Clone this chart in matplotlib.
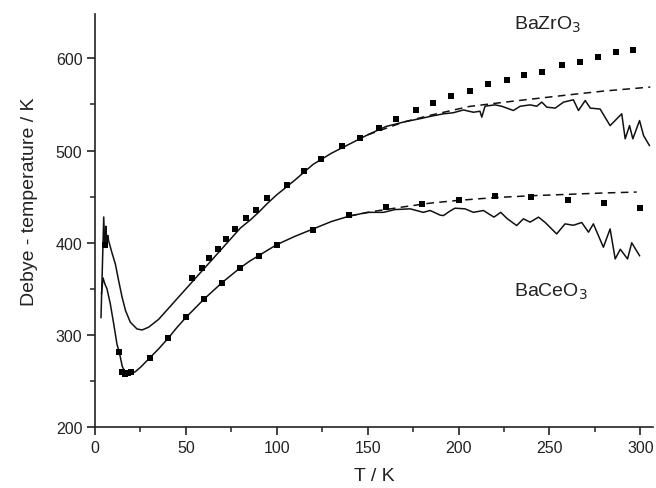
import matplotlib
matplotlib.use("Agg")
import matplotlib.pyplot as plt
from matplotlib.ticker import MultipleLocator

plt.rcParams['font.family'] = ['Liberation Sans', 'DejaVu Sans']

# BaZrO3 measured Debye temperature (solid line)
zr_line_T = [3.3, 4.8, 5.3, 5.7, 6.0, 6.5, 7.0, 7.5, 8.1, 9.5, 11.2, 13, 14.9, 16.8, 19.4, 23.1, 25.9,
             29.5, 35, 40, 45, 50, 55, 60, 65, 70, 75, 80, 85, 90, 95, 100, 110, 120, 130, 140, 150,
             160, 170, 180, 184.4, 191.7, 197.2, 202.7, 208.2, 211.8, 212.8, 214.6, 220.1, 223.8,
             230.2, 233.9, 239.4, 243, 245.8, 248.6, 253.2, 257.8, 263.2, 266, 269.7, 272.5, 277.9,
             283.4, 289.8, 291.7, 294.1, 295.9, 299.6, 301.8, 305]
zr_line_D = [319, 428, 400, 395, 418, 398, 408, 402, 398, 388, 377, 359, 341, 326.5, 314, 306.6, 305.5,
             308.5, 317, 328, 339, 350, 361, 372, 383, 394, 405, 416, 424, 433, 443, 452, 468, 485, 497,
             507, 517, 526, 531, 535, 537, 539.8, 541, 544, 541.5, 542.6, 536.2, 548.1, 549.5, 548,
             543.4, 548, 549.5, 548, 552.5, 547, 546, 552.5, 555, 543.4, 554.2, 546, 545,
             527, 539.8, 512.7, 527, 512.7, 532.5, 516.3, 505.5]

# BaZrO3 calculated points (squares)
zr_pts_T = [5.5, 53.6, 58.7, 62.9, 67.5, 72.3, 77.2, 83.3, 88.5, 94.8, 105.5, 115, 124.5, 136.1, 145.8,
            156.1, 165.7, 176.5, 186, 195.8, 206.4, 216.1, 226.4, 236.3, 245.8, 256.8, 266.7, 276.7,
            286.8, 296.1]
zr_pts_D = [398, 361.6, 372.8, 383.6, 393.4, 403.9, 415, 427, 435.5, 448.4, 463, 478, 491, 505, 513.4,
            524.6, 534.4, 544, 551, 558.8, 564.7, 571.6, 576.4, 582, 585.4, 592.2, 595.9, 600.9,
            606.7, 609.5]

# BaZrO3 Debye model (dashed)
zr_fit_T = [150, 170, 184, 206, 230, 257.7, 280, 305.5]
zr_fit_D = [517, 531, 538, 547.8, 553.5, 559.7, 564.5, 568.8]

# BaCeO3 measured Debye temperature (solid line)
ce_line_T = [3.6, 4.4, 5.5, 6.6, 8.4, 10.3, 12.1, 13.4, 15, 16.5, 18, 20, 22, 25, 30, 35, 40, 45, 50,
             55, 60, 65, 70, 75, 80, 85, 90, 95, 100, 110, 120, 130, 140, 150, 158.7, 165, 173.4,
             180.6, 184.4, 189.9, 191.7, 195, 198, 203.6, 208.2, 213.7, 219.5, 223.2, 226.9, 232,
             235.7, 239.4, 244, 247.7, 254, 258.6, 263.2, 267.8, 271.5, 274.2, 279.7, 283.4, 286.2,
             289, 293, 295.3, 299.6]
ce_line_D = [345, 362, 355, 350, 334, 312, 290, 281, 266, 260, 258, 258.5, 260, 265, 275, 285, 296, 308,
             319, 329, 339, 348, 357, 365, 373, 380, 386, 392, 398, 407, 415, 423, 429, 433, 433, 436,
             436.8, 433, 435, 430, 429.5, 434, 437.5, 436.8, 433, 435, 427.8, 433, 426, 418.7,
             426, 422.4, 427.8, 422, 409.6, 420.5, 419, 422, 411.5, 420.5, 395.2, 415, 382.5,
             393, 382.5, 400, 386]

# BaCeO3 calculated points (squares)
ce_pts_T = [13.3, 14.9, 16.4, 18, 20, 30, 40, 50, 60, 70, 80, 90, 100, 120, 140, 160, 180, 200, 220,
            240, 260, 280, 300]
ce_pts_D = [281.3, 260, 257.8, 258.5, 259.6, 275, 296.5, 320, 339.2, 356.5, 372.8, 386.1, 398, 414,
            430.3, 438.6, 442.5, 446.9, 450.5, 449.8, 446.9, 443, 438.2]

# BaCeO3 Debye model (dashed)
ce_fit_T = [140, 153, 170, 184.4, 200, 220, 240, 260, 280, 298]
ce_fit_D = [429, 434, 439, 443, 446, 449, 451, 452.5, 454, 455]

fig = plt.figure(figsize=(6.56, 4.89), dpi=100)
ax = fig.add_axes([95/656, 1 - 428.3/489, (653 - 95)/656, 413.3/489])

lw = 1.1
ax.plot(zr_line_T, zr_line_D, color='#111111', lw=lw)
ax.plot(ce_line_T, ce_line_D, color='#111111', lw=lw)
ax.plot(zr_fit_T, zr_fit_D, color='#111111', lw=lw, dashes=(5, 3.5))
ax.plot(ce_fit_T, ce_fit_D, color='#111111', lw=lw, dashes=(5, 3.5))
ax.plot(zr_pts_T, zr_pts_D, 's', color='black', ms=4.8, mew=0)
ax.plot(ce_pts_T, ce_pts_D, 's', color='black', ms=4.8, mew=0)

ax.set_xlim(0, 307)
ax.set_ylim(200, 648)
ax.xaxis.set_major_locator(MultipleLocator(50))
ax.xaxis.set_minor_locator(MultipleLocator(25))
ax.yaxis.set_major_locator(MultipleLocator(100))
ax.yaxis.set_minor_locator(MultipleLocator(50))
ax.spines['top'].set_visible(False)
ax.spines['right'].set_visible(False)
for s in ('left', 'bottom'):
    ax.spines[s].set_linewidth(1.2)
    ax.spines[s].set_color('#222222')
ax.tick_params(which='major', direction='out', length=6, width=1.2, labelsize=11.5, colors='#222222', pad=3)
ax.tick_params(which='minor', direction='out', length=3.5, width=1.1, colors='#222222')

ax.set_xlabel('T / K', fontsize=14, color='#222222', labelpad=9)
ax.set_ylabel('Debye - temperature / K', fontsize=14, color='#222222')
ax.yaxis.set_label_coords(-0.102, 0.548)

ax.text(230.5, 632, r'BaZrO$_3$', fontsize=14, color='#222222', va='baseline', ha='left')
ax.text(230.8, 342.7, r'BaCeO$_3$', fontsize=14, color='#222222', va='baseline', ha='left')

fig.savefig('out.png', dpi=100)
